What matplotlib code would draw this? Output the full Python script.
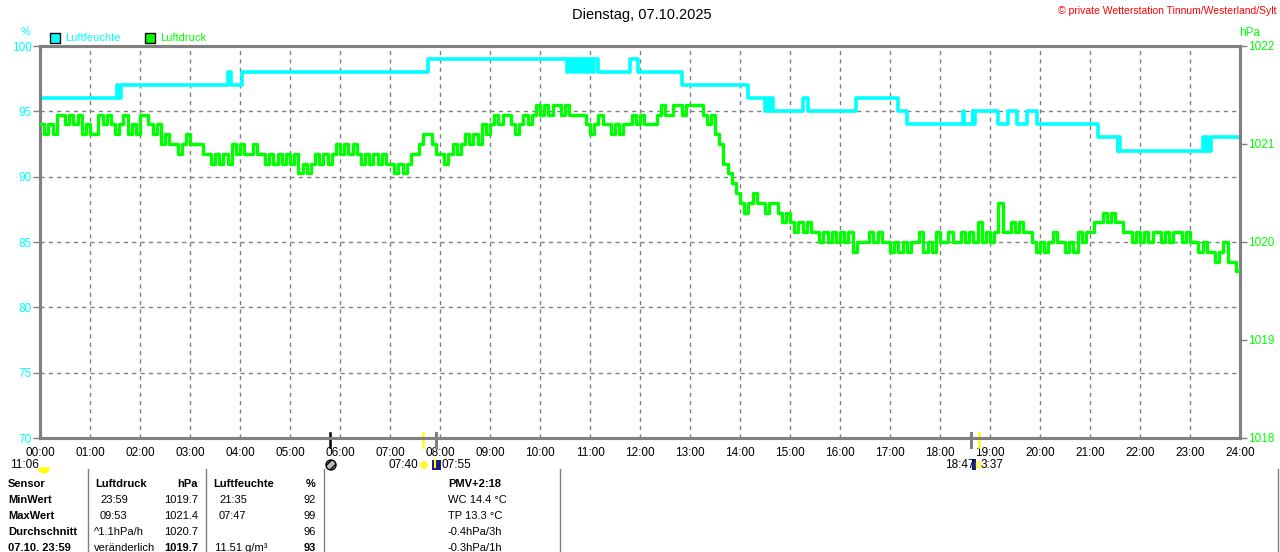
import matplotlib.pyplot as plt
import matplotlib.patches as mpatches
import matplotlib.transforms as mtransforms
import numpy as np

plt.rcParams["font.family"] = ["Liberation Sans", "DejaVu Sans"]

CYAN = "#00ffff"
GREEN = "#00ff00"
GRAY = "#808080"

# humidity (%) change points, drawn as steps
hum_times = [
    "00:00", "01:32", "01:34", "01:37", "03:45", "03:49", "04:02", "07:46",
    "10:32", "10:34", "10:37", "10:39", "10:42", "10:44", "10:48", "10:50",
    "10:53", "10:55", "10:58", "11:00", "11:03", "11:05", "11:09", "11:48",
    "11:58", "12:50", "14:10", "14:30", "14:32", "14:35", "14:37", "14:40",
    "15:16", "15:22", "16:19", "17:10", "17:20", "18:27", "18:29", "18:39",
    "18:40", "18:42", "19:10", "19:22", "19:32", "19:44", "19:56", "21:10",
    "21:33", "21:34", "21:36", "23:16", "23:18", "23:20", "23:22", "23:25",
    "24:00",
]
hum_vals = [
    96, 97, 96, 97, 98, 97, 98, 99,
    98, 99, 98, 99, 98, 99, 98, 99,
    98, 99, 98, 99, 98, 99, 98, 99,
    98, 97, 96, 95, 96, 95, 96, 95,
    96, 95, 96, 95, 94, 95, 94, 95,
    94, 95, 94, 95, 94, 95, 94, 93,
    92, 93, 92, 93, 92, 93, 92, 93,
    93,
]

# air pressure (hPa), one reading every 5 minutes, one row per hour
press_vals = [
    1021.2, 1021.1, 1021.2, 1021.1, 1021.3, 1021.3, 1021.2, 1021.3, 1021.2, 1021.3, 1021.1, 1021.2,
    1021.1, 1021.1, 1021.3, 1021.2, 1021.3, 1021.2, 1021.1, 1021.2, 1021.3, 1021.1, 1021.2, 1021.1,
    1021.3, 1021.3, 1021.2, 1021.1, 1021.2, 1021.0, 1021.1, 1021.0, 1021.0, 1020.9, 1021.0, 1021.1,
    1021.0, 1021.0, 1021.0, 1020.9, 1020.9, 1020.8, 1020.9, 1020.8, 1020.9, 1020.8, 1021.0, 1020.9,
    1021.0, 1020.9, 1020.9, 1021.0, 1020.9, 1020.9, 1020.8, 1020.9, 1020.8, 1020.9, 1020.8, 1020.9,
    1020.8, 1020.9, 1020.7, 1020.8, 1020.7, 1020.8, 1020.9, 1020.8, 1020.9, 1020.8, 1020.9, 1021.0,
    1020.9, 1021.0, 1020.9, 1021.0, 1020.9, 1020.8, 1020.9, 1020.8, 1020.9, 1020.8, 1020.9, 1020.8,
    1020.8, 1020.7, 1020.8, 1020.7, 1020.8, 1020.9, 1020.9, 1021.0, 1021.1, 1021.1, 1021.0, 1020.9,
    1020.9, 1020.8, 1020.9, 1021.0, 1020.9, 1021.0, 1021.1, 1021.0, 1021.1, 1021.0, 1021.2, 1021.1,
    1021.2, 1021.3, 1021.2, 1021.3, 1021.3, 1021.2, 1021.1, 1021.2, 1021.3, 1021.2, 1021.3, 1021.4,
    1021.3, 1021.4, 1021.3, 1021.4, 1021.4, 1021.3, 1021.4, 1021.3, 1021.3, 1021.3, 1021.3, 1021.2,
    1021.1, 1021.2, 1021.3, 1021.2, 1021.2, 1021.1, 1021.2, 1021.1, 1021.2, 1021.2, 1021.3, 1021.2,
    1021.3, 1021.2, 1021.2, 1021.2, 1021.3, 1021.4, 1021.3, 1021.3, 1021.4, 1021.4, 1021.3, 1021.4,
    1021.4, 1021.4, 1021.4, 1021.3, 1021.2, 1021.3, 1021.1, 1021.0, 1020.8, 1020.7, 1020.6, 1020.5,
    1020.4, 1020.3, 1020.4, 1020.5, 1020.4, 1020.4, 1020.3, 1020.4, 1020.4, 1020.3, 1020.2, 1020.3,
    1020.2, 1020.1, 1020.2, 1020.1, 1020.2, 1020.1, 1020.1, 1020.0, 1020.1, 1020.0, 1020.1, 1020.0,
    1020.1, 1020.0, 1020.1, 1019.9, 1020.0, 1020.0, 1020.0, 1020.1, 1020.0, 1020.1, 1020.0, 1020.0,
    1019.9, 1020.0, 1019.9, 1020.0, 1019.9, 1020.0, 1020.0, 1020.1, 1019.9, 1020.0, 1019.9, 1020.1,
    1020.0, 1020.0, 1020.1, 1020.0, 1020.0, 1020.1, 1020.0, 1020.1, 1020.0, 1020.2, 1020.0, 1020.1,
    1020.0, 1020.1, 1020.4, 1020.1, 1020.1, 1020.2, 1020.1, 1020.2, 1020.1, 1020.1, 1020.0, 1019.9,
    1020.0, 1019.9, 1020.0, 1020.1, 1020.0, 1020.0, 1019.9, 1020.0, 1019.9, 1020.1, 1020.0, 1020.1,
    1020.1, 1020.2, 1020.2, 1020.3, 1020.2, 1020.3, 1020.2, 1020.2, 1020.1, 1020.1, 1020.0, 1020.1,
    1020.0, 1020.1, 1020.0, 1020.1, 1020.1, 1020.0, 1020.1, 1020.0, 1020.1, 1020.1, 1020.0, 1020.1,
    1020.0, 1020.0, 1019.9, 1020.0, 1019.9, 1019.9, 1019.8, 1019.9, 1020.0, 1019.8, 1019.8, 1019.7,
    1019.7,
]
press_step_min = 5

hour_labels = ["%02d:00" % h for h in range(25)]
hum_ticks = [70, 75, 80, 85, 90, 95, 100]
press_ticks = [1018, 1019, 1020, 1021, 1022]

# sun / moon markers on the time axis
event_times = ["05:48", "07:40", "07:55", "18:37", "18:47"]
event_colors = ["black", "#ffff00", GRAY, GRAY, "#ffff00"]

# summary table
row_labels = ["Sensor", "MinWert", "MaxWert", "Durchschnitt", "07.10. 23:59"]
press_info = ["Luftdruck", "23:59", "09:53", "^1.1hPa/h", "veränderlich"]
press_table = ["hPa", "1019.7", "1021.4", "1020.7", "1019.7"]
hum_info = ["Luftfeuchte", "21:35", "07:47", "", "11.51 g/m³"]
hum_table = ["%", "92", "99", "96", "93"]
extra_info = ["PMV+2:18", "WC 14.4 °C", "TP 13.3 °C", "-0.4hPa/3h", "-0.3hPa/1h"]


def to_min(s):
    h, m = s.split(":")
    return int(h) * 60 + int(m)


fig = plt.figure(figsize=(12.8, 5.52), dpi=100)
W, H = 1280, 552
ax = fig.add_axes([40 / W, 1 - 438 / H, 1200 / W, 392 / H])
ax2 = ax.twinx()

hx = [to_min(t) for t in hum_times]
ax.plot(hx, hum_vals, drawstyle="steps-post", color=CYAN, lw=2.6, zorder=3)
px = np.arange(len(press_vals)) * press_step_min
ax2.plot(px, press_vals, drawstyle="steps-post", color=GREEN, lw=2.4, zorder=3)

ax.set_xlim(0, 1440)
ax.set_ylim(70, 100)
ax2.set_ylim(1018, 1022)
ax.set_xticks(range(0, 1441, 60))
ax.set_xticklabels(hour_labels)
ax.set_yticks(hum_ticks)
ax.set_yticklabels([str(v) for v in hum_ticks])
ax2.set_yticks(press_ticks)
ax2.set_yticklabels([str(v) for v in press_ticks])

ax.grid(True, color=GRAY, linestyle=(0, (3, 3)), lw=1)
ax.tick_params(axis="x", length=0, pad=6.5, labelsize=8.5, colors="black")
ax.tick_params(axis="y", length=5, width=1, color=GRAY, labelcolor=CYAN,
               labelsize=8.5, pad=1)
ax2.tick_params(axis="y", length=5, width=1, color=GRAY, labelcolor=GREEN,
                labelsize=8.5, pad=1)
for a in (ax, ax2):
    for sp in a.spines.values():
        sp.set_color(GRAY)
        sp.set_linewidth(2.2)

# event markers straddling the bottom axis
trans = mtransforms.blended_transform_factory(ax.transData, ax.transAxes)
for t, c in zip(event_times, event_colors):
    lw = 2.2 if c == GRAY else 1.8
    ax.plot([to_min(t)] * 2, [-0.022, 0.013], color=c, lw=lw, transform=trans,
            clip_on=False, zorder=5)

# overlay in pixel coordinates for the texts around the chart
ov = fig.add_axes([0, 0, 1, 1], zorder=-1)
ov.set_xlim(0, W)
ov.set_ylim(H, 0)
ov.axis("off")

ov.text(642, 15, "Dienstag, 07.10.2025", ha="center", va="center", fontsize=10.5)
ov.text(1277, 11, "© private Wetterstation Tinnum/Westerland/Sylt", ha="right",
        va="center", fontsize=7.5, color="red")
ov.text(26, 32, "%", ha="center", va="center", fontsize=8, color=CYAN)
ov.text(1250, 33, "hPa", ha="center", va="center", fontsize=8.5, color=GREEN)

# legend boxes
ov.add_patch(mpatches.Rectangle((50, 33), 10, 10, fc=CYAN, ec="black", lw=1))
ov.text(65, 38, "Luftfeuchte", va="center", fontsize=8, color=CYAN)
ov.add_patch(mpatches.Rectangle((145, 33), 10, 10, fc=GREEN, ec="black", lw=1))
ov.text(160, 38, "Luftdruck", va="center", fontsize=8, color=GREEN)

# sun / moon icons and times
ry = 465
ov.add_patch(mpatches.Wedge((44, ry + 3), 5, 0, 180, fc="#ffff00", ec="#ffff00"))
ov.text(10, ry, "11:06", va="center", fontsize=8.5)
ov.add_patch(mpatches.Circle((331, ry), 5, fc="#bbbbbb", ec="black", lw=1, hatch="////"))
ov.add_patch(mpatches.Circle((424, ry), 3.5, fc="#ffff00", ec="#ffee88", lw=1))
ov.text(418, ry, "07:40", ha="right", va="center", fontsize=8.5)
ov.add_patch(mpatches.Rectangle((432, ry - 5), 9, 10, fc="#1a1a8c", ec="none"))
ov.plot([435, 435], [ry - 5, ry + 2], color="#ffff00", lw=1.5)
ov.text(442, ry, "07:55", va="center", fontsize=8.5)
ov.text(945, ry, "18:47", va="center", fontsize=8.5)
ov.add_patch(mpatches.Rectangle((972, ry - 6), 4, 11, fc="#1a1a8c", ec="none"))
ov.add_patch(mpatches.Rectangle((976, ry - 3), 4, 5, fc="none", ec="#ffff00", lw=1))
ov.text(981, ry, "3:37", va="center", fontsize=8.5)

# table
for x in (88, 206, 324, 560, 1278):
    ov.plot([x, x], [469, H], color=GRAY, lw=1)

row_y = [484, 500, 516, 532, 548]
for i, y in enumerate(row_y):
    head = i == 0
    last = i == len(row_y) - 1
    fw = "bold" if head else "normal"
    ov.text(8, y, row_labels[i], va="center", fontsize=8, fontweight="bold")
    ov.text(95 if head else (100 if i < 3 else 94), y, press_info[i],
            va="center", fontsize=8, fontweight=fw)
    ov.text(198, y, press_table[i], ha="right", va="center", fontsize=8,
            fontweight="bold" if head or last else "normal")
    ov.text(213 if head else (219 if i < 3 else 215), y, hum_info[i],
            va="center", fontsize=8, fontweight=fw)
    ov.text(316, y, hum_table[i], ha="right", va="center", fontsize=8,
            fontweight="bold" if head or last else "normal")
    ov.text(448, y, extra_info[i], va="center", fontsize=8, fontweight=fw)

fig.savefig("out.png", dpi=100)
